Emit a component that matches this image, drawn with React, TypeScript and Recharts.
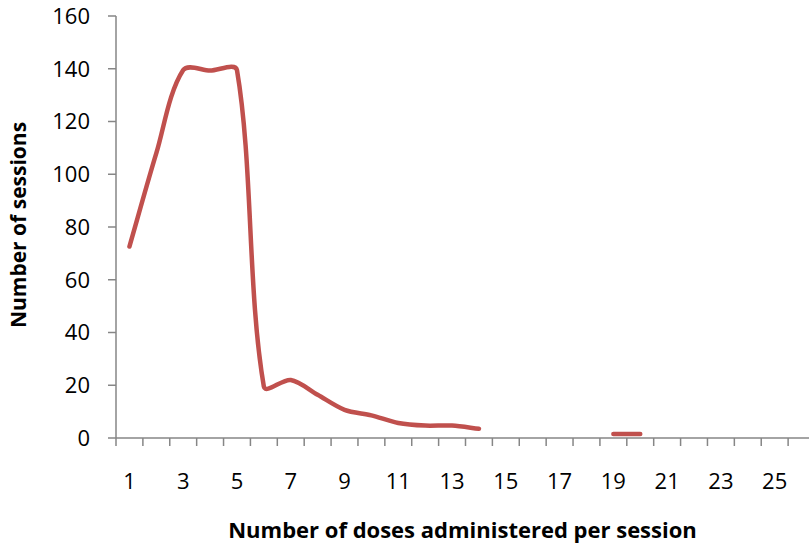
import React from 'react';
import { LineChart, Line, XAxis, YAxis } from 'recharts';

const doses = [1, 2, 3, 4, 5, 6, 7, 8, 9, 10, 11, 12, 13, 14, 15, 16, 17, 18, 19, 20, 21, 22, 23, 24, 25, 26];
const sessions: (number | null)[] = [
  72.6, 108, 139.5, 139.3, 139.5, 19.5, 22, 16.4, 10.7, 8.6, 5.7, 4.7, 4.7, 3.5,
  null, null, null, null, 1.5, 1.5, null, null, null, null, null, null,
];
const xTickLabels = [1, 3, 5, 7, 9, 11, 13, 15, 17, 19, 21, 23, 25];
const yTicks = [0, 20, 40, 60, 80, 100, 120, 140, 160];

const data = doses.map((d, i) => ({ dose: d, sessions: sessions[i] }));

// tick marks sit between categories, labels on odd categories
const boundaries = [...doses.map((d) => d - 0.5), doses[doses.length - 1] + 0.5];
const xTicks = [...boundaries, ...xTickLabels].sort((a, b) => a - b);

const AXIS = '#868686';
const FONT = '"Open Sans", sans-serif';
const TICK_SIZE = 8;
const TICK_MARGIN = 27;

// spreadsheet-style smoothing: bezier handles along the neighbour direction,
// scaled by the length of each adjoining segment
const smoothCurve = (context: any) => {
  let pts: [number, number][] = [];
  const k = 0.3;
  return {
    areaStart() {},
    areaEnd() {},
    lineStart() {
      pts = [];
    },
    point(x: number, y: number) {
      pts.push([+x, +y]);
    },
    lineEnd() {
      const n = pts.length;
      if (!n) return;
      context.moveTo(pts[0][0], pts[0][1]);
      if (n === 1) {
        context.lineTo(pts[0][0], pts[0][1]);
        return;
      }
      const dir = (i: number) => {
        const a = pts[Math.max(i - 1, 0)];
        const b = pts[Math.min(i + 1, n - 1)];
        const dx = b[0] - a[0];
        const dy = b[1] - a[1];
        const len = Math.hypot(dx, dy) || 1;
        return [dx / len, dy / len];
      };
      for (let i = 0; i < n - 1; i++) {
        const p1 = pts[i];
        const p2 = pts[i + 1];
        const seg = Math.hypot(p2[0] - p1[0], p2[1] - p1[1]);
        const d1 = dir(i);
        const d2 = dir(i + 1);
        context.bezierCurveTo(
          p1[0] + d1[0] * seg * k,
          p1[1] + d1[1] * seg * k,
          p2[0] - d2[0] * seg * k,
          p2[1] - d2[1] * seg * k,
          p2[0],
          p2[1]
        );
      }
    },
  };
};

const XTick = (props: any) => {
  const { x, y, payload } = props;
  const v = payload.value;
  if (!Number.isInteger(v)) {
    const y0 = y - TICK_MARGIN - TICK_SIZE;
    return <line x1={x} x2={x} y1={y0} y2={y0 + TICK_SIZE} stroke={AXIS} strokeWidth={1.5} />;
  }
  return (
    <text x={x} y={y} dy="0.71em" textAnchor="middle" fontSize={22} fontFamily={FONT} fill="#000">
      {v}
    </text>
  );
};

const App = () => {
  return (
    <div style={{ position: 'absolute', left: 0, top: 0, width: 809, height: 548, overflow: 'hidden', background: '#fff' }}>
      <LineChart width={830} height={548} data={data} margin={{ top: 16, right: 15, left: 0, bottom: 0 }}>
        <XAxis
          dataKey="dose"
          type="number"
          domain={[0.5, 26.5]}
          ticks={xTicks}
          interval={0}
          height={110}
          tickLine={false}
          tickSize={TICK_SIZE}
          tickMargin={TICK_MARGIN}
          tick={<XTick />}
          axisLine={{ stroke: AXIS, strokeWidth: 1.5 }}
          allowDataOverflow
        />
        <YAxis
          domain={[0, 160]}
          ticks={yTicks}
          interval={0}
          width={116}
          tickSize={8}
          tickMargin={18}
          tickLine={{ stroke: AXIS, strokeWidth: 1.5 }}
          axisLine={{ stroke: AXIS, strokeWidth: 1.5 }}
          tick={{ fontSize: 22, fontFamily: FONT, fill: '#000' }}
        />
        <Line
          type={smoothCurve as any}
          dataKey="sessions"
          stroke="#C0504D"
          strokeWidth={4.5}
          strokeLinecap="round"
          strokeLinejoin="round"
          dot={false}
          connectNulls={false}
          isAnimationActive={false}
        />
      </LineChart>
      <div
        style={{
          position: 'absolute',
          left: 0,
          width: 925,
          top: 515,
          textAlign: 'center',
          fontFamily: FONT,
          fontWeight: 700,
          fontSize: 22,
          lineHeight: '28px',
          whiteSpace: 'nowrap',
        }}
      >
        Number of doses administered per session
      </div>
      <div
        style={{
          position: 'absolute',
          left: 18,
          top: 225,
          transform: 'translate(-50%, -50%) rotate(-90deg)',
          fontFamily: FONT,
          fontWeight: 700,
          fontSize: 21,
          lineHeight: '28px',
          whiteSpace: 'nowrap',
        }}
      >
        Number of sessions
      </div>
    </div>
  );
};

export default App;
